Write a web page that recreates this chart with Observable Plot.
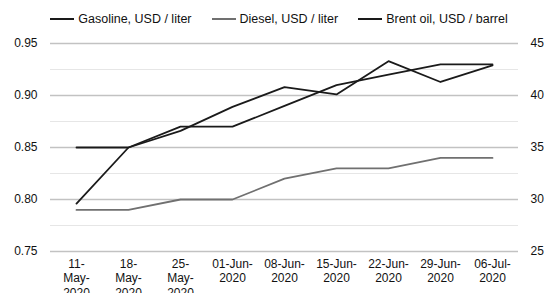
<!DOCTYPE html>
<html>
<head>
<meta charset="utf-8">
<script src="https://cdn.jsdelivr.net/npm/d3@7"></script>
<script src="https://cdn.jsdelivr.net/npm/@observablehq/plot@0.6"></script>
<style>
  html, body { margin: 0; padding: 0; background: #fff; }
  #wrap { width: 558px; height: 293px; overflow: hidden; font-family: "Liberation Sans", Arial, sans-serif; color: #111; }
  #legend { height: 38px; display: flex; align-items: center; justify-content: center; gap: 20px; font-size: 12.5px; box-sizing: border-box; }
  .item { display: flex; align-items: center; gap: 4px; }
  .sw { width: 24px; height: 0; border-top: 2px solid #111; }
</style>
</head>
<body>
<div id="wrap">
  <div id="legend"></div>
  <div id="chart"></div>
</div>
<script>
const dates = ["11-May-2020","18-May-2020","25-May-2020","01-Jun-2020","08-Jun-2020","15-Jun-2020","22-Jun-2020","29-Jun-2020","06-Jul-2020"];
const dateLabels = ["11-\nMay-\n2020","18-\nMay-\n2020","25-\nMay-\n2020","01-Jun-\n2020","08-Jun-\n2020","15-Jun-\n2020","22-Jun-\n2020","29-Jun-\n2020","06-Jul-\n2020"];
const gasoline = [0.85, 0.85, 0.87, 0.87, 0.89, 0.91, 0.92, 0.93, 0.93];
const diesel = [0.79, 0.79, 0.80, 0.80, 0.82, 0.83, 0.83, 0.84, 0.84];
const brent = [29.6, 35.0, 36.6, 38.9, 40.8, 40.1, 43.3, 41.3, 42.9];
const leftTicks = [0.75, 0.80, 0.85, 0.90, 0.95];
const leftMinor = [0.775, 0.825, 0.875, 0.925];
const rightTicks = [25, 30, 35, 40, 45];
const seriesNames = ["Gasoline, USD / liter", "Diesel, USD / liter", "Brent oil, USD / barrel"];
const seriesColors = ["#1a1a1a", "#707070", "#1a1a1a"];

// secondary axis mapping: 25..45 (right) <-> 0.75..0.95 (left)
const toLeft = b => 0.75 + (b - 25) / 100;

const rows = dates.map((d, i) => ({date: d, gasoline: gasoline[i], diesel: diesel[i], brent: brent[i]}));

const legend = document.getElementById("legend");
seriesNames.forEach((n, i) => {
  const it = document.createElement("div");
  it.className = "item";
  it.innerHTML = `<span class="sw" style="border-top-color:${seriesColors[i]}"></span><span>${n}</span>`;
  legend.appendChild(it);
});

const chart = Plot.plot({
  width: 558,
  height: 255,
  marginLeft: 50,
  marginRight: 40,
  marginTop: 5,
  marginBottom: 42,
  x: {type: "point", domain: dates, padding: 0.5},
  y: {domain: [0.75, 0.95]},
  style: {fontFamily: "'Liberation Sans', Arial, sans-serif", fontSize: "12px", color: "#111", background: "#fff", overflow: "visible"},
  marks: [
    Plot.ruleY(leftMinor, {stroke: "#e6e6e6", strokeWidth: 1.2}),
    Plot.ruleY(leftTicks, {stroke: "#c2c2c2", strokeWidth: 1.6}),
    Plot.axisY({ticks: leftTicks, tickSize: 0, tickPadding: 13, tickFormat: d3.format(".2f"), label: null}),
    Plot.axisY({anchor: "right", ticks: rightTicks.map(toLeft), tickSize: 0, tickPadding: 12,
      tickFormat: (d, i) => String(rightTicks[i]), label: null}),
    Plot.axisX({tickSize: 0, tickPadding: 6, tickFormat: d => dateLabels[dates.indexOf(d)], lineHeight: 1.2, label: null}),
    Plot.lineY(rows, {x: "date", y: "diesel", stroke: seriesColors[1], strokeWidth: 1.8}),
    Plot.lineY(rows, {x: "date", y: "gasoline", stroke: seriesColors[0], strokeWidth: 1.8}),
    Plot.lineY(rows, {x: "date", y: d => toLeft(d.brent), stroke: seriesColors[2], strokeWidth: 1.8})
  ]
});
document.getElementById("chart").appendChild(chart);
</script>
</body>
</html>
